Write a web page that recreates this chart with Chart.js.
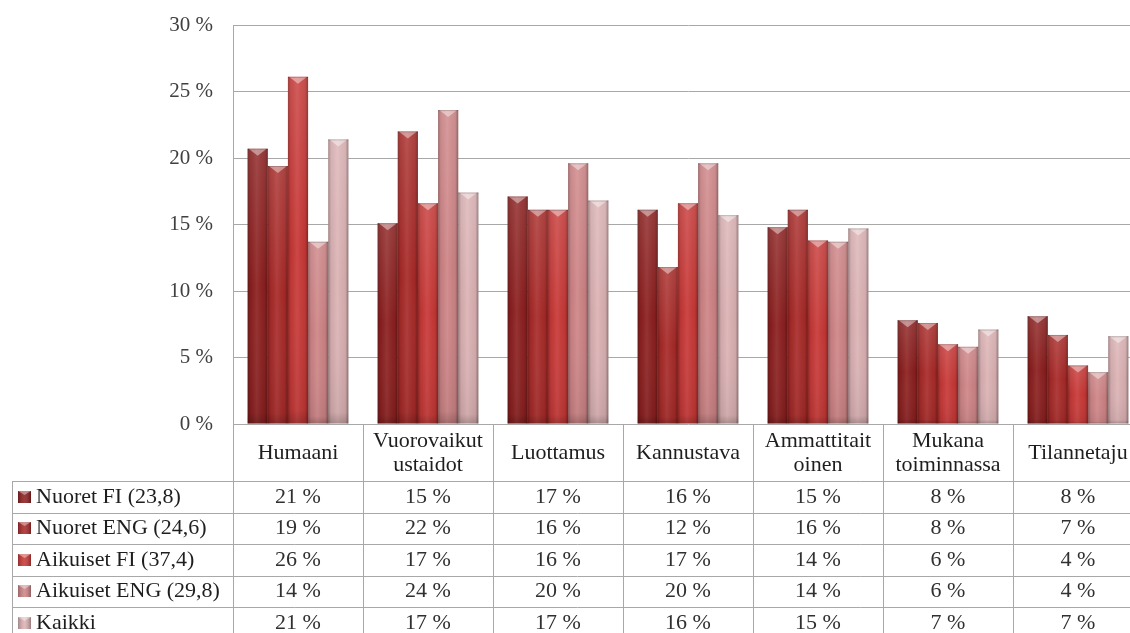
<!DOCTYPE html>
<html>
<head>
<meta charset="utf-8">
<style>
  html, body { margin: 0; padding: 0; background: #ffffff; overflow: hidden; width: 1130px; height: 633px; }
  #wrap { position: relative; width: 1143px; height: 633px; }
  canvas { display: block; }
</style>
<script src="https://cdn.jsdelivr.net/npm/chart.js@4.4.1/dist/chart.umd.min.js"></script>
</head>
<body>
<div id="wrap"><canvas id="chart" width="1143" height="633"></canvas></div>
<script>
// Qualities, each shown as a column group; multi-line labels are arrays of lines
const categories = [
  ['Humaani'],
  ['Vuorovaikut', 'ustaidot'],
  ['Luottamus'],
  ['Kannustava'],
  ['Ammattitait', 'oinen'],
  ['Mukana', 'toiminnassa'],
  ['Tilannetaju']
];

const seriesNames = ['Nuoret FI (23,8)', 'Nuoret ENG (24,6)', 'Aikuiset FI (37,4)', 'Aikuiset ENG (29,8)', 'Kaikki'];

// Shares in percent
const nuoretFI    = [20.7, 15.1, 17.1, 16.1, 14.8, 7.8, 8.1];
const nuoretENG   = [19.4, 22.0, 16.1, 11.8, 16.1, 7.6, 6.7];
const aikuisetFI  = [26.1, 16.6, 16.1, 16.6, 13.8, 6.0, 4.4];
const aikuisetENG = [13.7, 23.6, 19.6, 19.6, 13.7, 5.8, 3.9];
const kaikki      = [21.4, 17.4, 16.8, 15.7, 14.7, 7.1, 6.6];

const yTicks = [0, 5, 10, 15, 20, 25, 30];

const seriesValues = [nuoretFI, nuoretENG, aikuisetFI, aikuisetENG, kaikki];
const seriesColors = ['#8c1f1f', '#a82a28', '#c83836', '#cf8486', '#dcb2b4'];

const SERIF = '"Liberation Serif", "DejaVu Serif", serif';
const GRID = '#a8a8a8';

// Shading over each bar: rounded sides, light top, bevelled cap
const barShading = {
  id: 'barShading',
  afterDatasetsDraw(chart) {
    const ctx = chart.ctx;
    ctx.save();
    chart.data.datasets.forEach((ds, di) => {
      const meta = chart.getDatasetMeta(di);
      if (meta.hidden) return;
      meta.data.forEach(bar => {
        const { x, y, base, width } = bar.getProps(['x', 'y', 'base', 'width'], true);
        const l = x - width / 2, r = x + width / 2, h = base - y;
        if (h <= 0) return;

        const g = ctx.createLinearGradient(l, 0, r, 0);
        g.addColorStop(0, 'rgba(0,0,0,0.30)');
        g.addColorStop(0.14, 'rgba(0,0,0,0.06)');
        g.addColorStop(0.45, 'rgba(255,255,255,0.08)');
        g.addColorStop(0.85, 'rgba(0,0,0,0.05)');
        g.addColorStop(1, 'rgba(0,0,0,0.36)');
        ctx.fillStyle = g;
        ctx.fillRect(l, y, width, h);

        const v = ctx.createLinearGradient(0, y, 0, base);
        v.addColorStop(0, 'rgba(255,255,255,0.12)');
        v.addColorStop(0.5, 'rgba(255,255,255,0)');
        v.addColorStop(0.96, 'rgba(0,0,0,0.06)');
        v.addColorStop(1, 'rgba(0,0,0,0.22)');
        ctx.fillStyle = v;
        ctx.fillRect(l, y, width, h);

        const bh = Math.min(7, h);
        ctx.beginPath();
        ctx.moveTo(l + 1, y);
        ctx.lineTo(r - 1, y);
        ctx.lineTo(x, y + bh);
        ctx.closePath();
        ctx.fillStyle = 'rgba(255,255,255,0.42)';
        ctx.fill();

        ctx.fillStyle = 'rgba(0,0,0,0.18)';
        ctx.fillRect(l, y, width, 1);
      });
    });
    ctx.restore();
  }
};

// Data table under the plot, aligned to the category columns
const dataTable = {
  id: 'dataTable',
  afterDraw(chart) {
    const ctx = chart.ctx;
    const area = chart.chartArea;
    const xScale = chart.scales.x;
    const n = categories.length;
    const colW = (area.right - area.left) / n;
    const headerTop = area.bottom;
    const headerBottom = 481;
    const rowH = 31.5;
    const tableLeft = 12;
    const H = chart.height;

    ctx.save();
    ctx.strokeStyle = GRID;
    ctx.lineWidth = 1;

    // horizontal rules
    for (let i = 0; i <= seriesNames.length; i++) {
      const yy = Math.round(headerBottom + i * rowH) + 0.5;
      ctx.beginPath();
      ctx.moveTo(tableLeft, yy);
      ctx.lineTo(area.right, yy);
      ctx.stroke();
    }
    // left border of the series column
    ctx.beginPath();
    ctx.moveTo(tableLeft + 0.5, headerBottom);
    ctx.lineTo(tableLeft + 0.5, H);
    ctx.stroke();
    // column separators
    for (let i = 0; i <= n; i++) {
      const xx = Math.round(area.left + i * colW) + 0.5;
      ctx.beginPath();
      ctx.moveTo(xx, headerTop);
      ctx.lineTo(xx, H);
      ctx.stroke();
    }

    // header labels
    ctx.fillStyle = '#1e1e1e';
    ctx.font = '22px ' + SERIF;
    ctx.textAlign = 'center';
    ctx.textBaseline = 'middle';
    const headerMid = (headerTop + headerBottom) / 2 + 1;
    categories.forEach((lines, i) => {
      const cx = xScale.getPixelForValue(i);
      const lh = 24;
      const start = headerMid - (lines.length - 1) * lh / 2;
      lines.forEach((t, k) => ctx.fillText(t, cx, start + k * lh));
    });

    // series rows
    seriesNames.forEach((name, s) => {
      const cy = headerBottom + s * rowH + rowH / 2;
      // swatch
      const sx = 18, sw = 13, sh = 12, sy = Math.round(cy - sh / 2);
      ctx.fillStyle = seriesColors[s];
      ctx.fillRect(sx, sy, sw, sh);
      const g = ctx.createLinearGradient(sx, 0, sx + sw, 0);
      g.addColorStop(0, 'rgba(0,0,0,0.25)');
      g.addColorStop(0.5, 'rgba(255,255,255,0.12)');
      g.addColorStop(1, 'rgba(0,0,0,0.3)');
      ctx.fillStyle = g;
      ctx.fillRect(sx, sy, sw, sh);
      ctx.beginPath();
      ctx.moveTo(sx, sy); ctx.lineTo(sx + sw, sy); ctx.lineTo(sx + sw / 2, sy + 4); ctx.closePath();
      ctx.fillStyle = 'rgba(255,255,255,0.4)';
      ctx.fill();

      ctx.fillStyle = '#1e1e1e';
      ctx.textAlign = 'left';
      ctx.fillText(name, 36, cy);

      ctx.fillStyle = '#303030';
      ctx.textAlign = 'center';
      seriesValues[s].forEach((v, i) => {
        ctx.fillText(Math.round(v) + ' %', xScale.getPixelForValue(i), cy);
      });
    });
    ctx.restore();
  }
};

new Chart(document.getElementById('chart'), {
  type: 'bar',
  data: {
    labels: categories,
    datasets: seriesNames.map((name, s) => ({
      label: name,
      data: seriesValues[s],
      backgroundColor: seriesColors[s],
      borderWidth: 0,
      categoryPercentage: 0.775,
      barPercentage: 1.0
    }))
  },
  options: {
    responsive: false,
    animation: false,
    devicePixelRatio: 1,
    layout: { padding: { top: 25, bottom: 209, left: 0, right: 0 } },
    plugins: {
      legend: { display: false },
      tooltip: { enabled: false }
    },
    scales: {
      x: {
        display: false,
        offset: true
      },
      y: {
        min: 0,
        max: 30,
        afterBuildTicks(scale) { scale.ticks = yTicks.map(v => ({ value: v })); },
        afterFit(scale) {
          scale.width = 233;
          scale.paddingTop = 0;
          scale.paddingBottom = 0;
        },
        grid: { color: GRID, lineWidth: 1, drawTicks: false },
        border: { display: true, color: GRID, width: 1 },
        ticks: {
          padding: 20,
          color: '#404040',
          font: { family: SERIF, size: 21 },
          callback: v => v + ' %'
        }
      }
    }
  },
  plugins: [barShading, dataTable]
});
</script>
</body>
</html>
